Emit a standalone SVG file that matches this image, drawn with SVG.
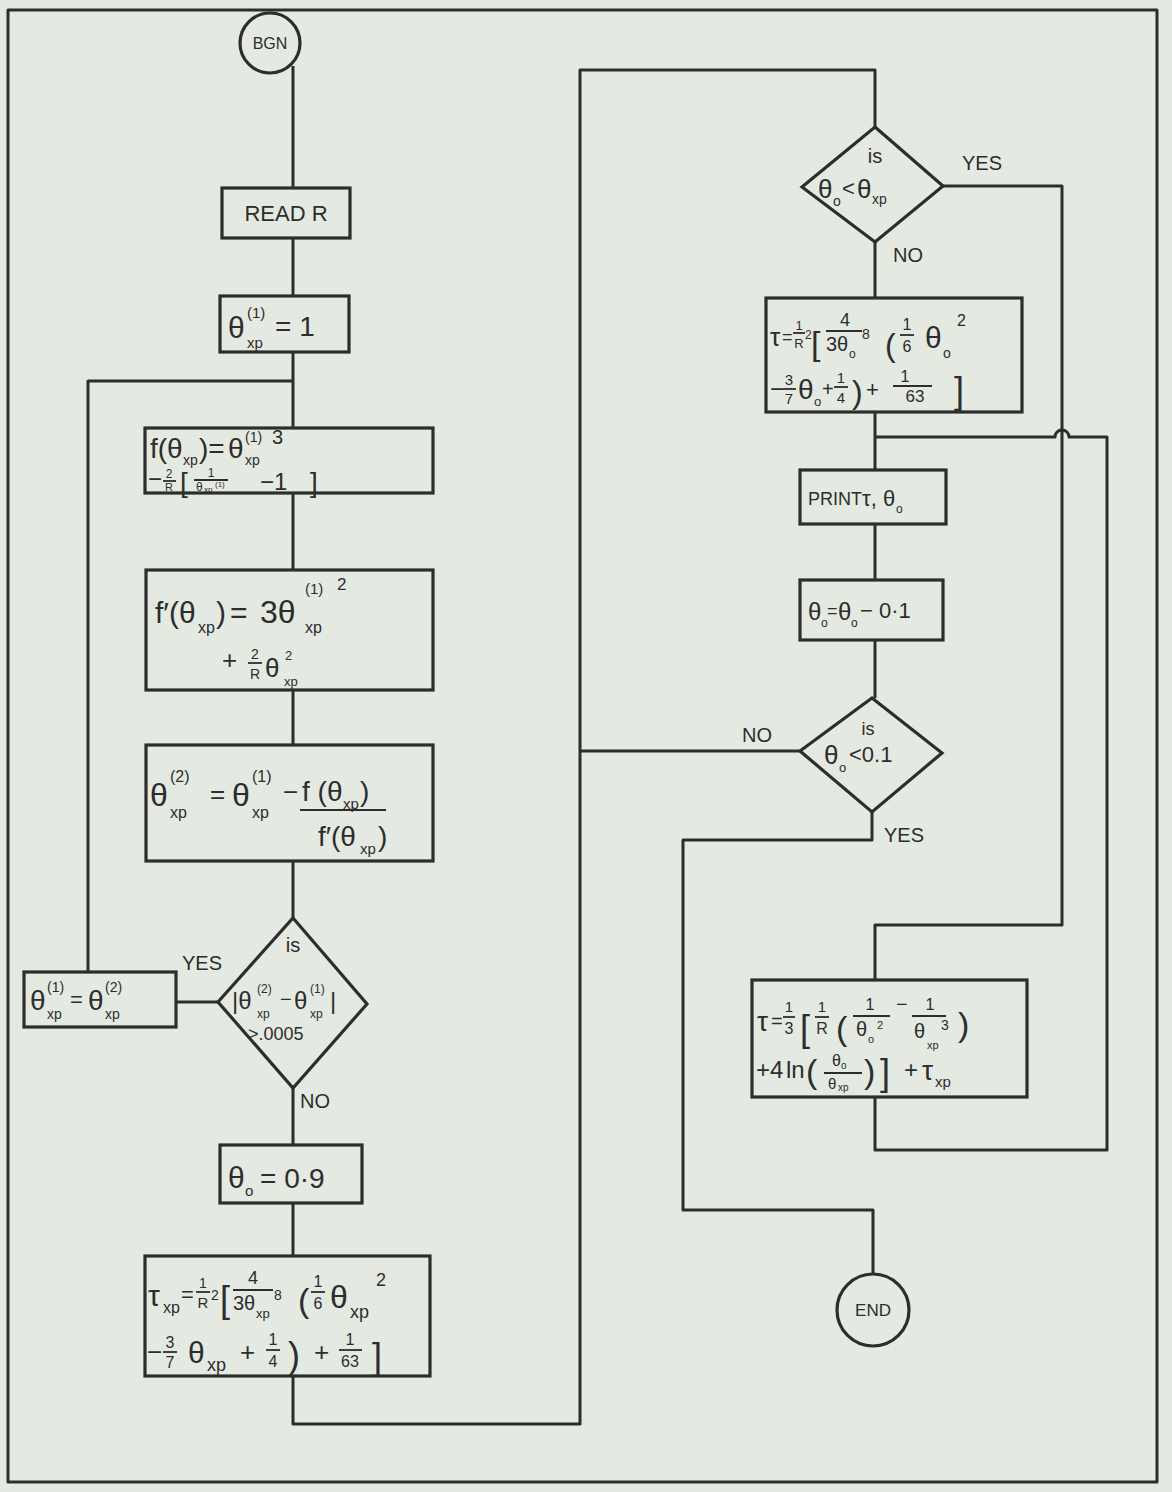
<svg xmlns="http://www.w3.org/2000/svg" width="1172" height="1492" viewBox="0 0 1172 1492">
<style>
.ln{fill:none;stroke:#2d2d2d;stroke-width:3;stroke-linejoin:round}
.nd{fill:none;stroke:#2d2d2d;stroke-width:3.2}
.fb{stroke:#2d2d2d;stroke-width:1.8}
text{font-family:"Liberation Sans","DejaVu Sans",sans-serif;fill:#2d2d2d}
.c{text-anchor:middle}
.lb{font-size:20px}
</style>
<rect x="0" y="0" width="1172" height="1492" fill="#e4e9e1"/>
<rect x="8" y="10" width="1149" height="1472" class="ln"/>

<g id="connectors">
<path class="ln" d="M293,66 V188"/>
<path class="ln" d="M293,238 V296"/>
<path class="ln" d="M293,352 V428"/>
<path class="ln" d="M88,972 V381 H293"/>
<path class="ln" d="M293,493 V570"/>
<path class="ln" d="M293,690 V745"/>
<path class="ln" d="M293,861 V918"/>
<path class="ln" d="M218,1002 H176"/>
<path class="ln" d="M293,1088 V1145"/>
<path class="ln" d="M293,1203 V1256"/>
<path class="ln" d="M293,1376 V1424 H580 V70 H875 V127"/>
<path class="ln" d="M875,242 V298"/>
<path class="ln" d="M875,412 V470"/>
<path class="ln" d="M875,524 V580"/>
<path class="ln" d="M875,640 V698"/>
<path class="ln" d="M800,751 H580"/>
<path class="ln" d="M943,186 H1062 V925 H875 V980"/>
<path class="ln" d="M875,1097 V1150 H1107 V437 H1069 A7,7 0 0 0 1055,437 H875"/>
<path class="ln" d="M872,812 V840 H683 V1210 H873 V1274"/>
<text class="lb" x="182" y="970">YES</text>
<text class="lb" x="300" y="1108">NO</text>
<text class="lb" x="962" y="170">YES</text>
<text class="lb" x="893" y="262">NO</text>
<text class="lb" x="742" y="742">NO</text>
<text class="lb" x="884" y="842">YES</text>
</g>

<g id="bgn">
<circle cx="270" cy="43" r="30" class="nd"/>
<text class="c" x="270" y="49" font-size="16">BGN</text>
</g>

<g id="read">
<rect x="222" y="188" width="128" height="50" class="nd"/>
<text class="c" x="286" y="221" font-size="22">READ R</text>
</g>

<g id="init">
<rect x="220" y="296" width="129" height="56" class="nd"/>
<text x="228" y="338" font-size="30">θ</text>
<text x="247" y="318" font-size="15">(1)</text>
<text x="247" y="348" font-size="15">xp</text>
<text x="275" y="336" font-size="28">= 1</text>
</g>

<g id="fx">
<rect x="145" y="428" width="288" height="65" class="nd"/>
<text x="150" y="458" font-size="28">f(θ</text>
<text x="183" y="465" font-size="14">xp</text>
<text x="199" y="458" font-size="28">)=</text>
<text x="228" y="458" font-size="28">θ</text>
<text x="245" y="442" font-size="14">(1)</text>
<text x="245" y="465" font-size="14">xp</text>
<text x="272" y="444" font-size="20">3</text>
<text x="148" y="487" font-size="24">−</text>
<text class="c" x="169" y="478" font-size="12">2</text>
<line class="fb" x1="163" y1="481" x2="176" y2="481"/>
<text class="c" x="169" y="491" font-size="11">R</text>
<text x="180" y="492" font-size="28">[</text>
<text class="c" x="211" y="477" font-size="12">1</text>
<line class="fb" x1="194" y1="480" x2="228" y2="480"/>
<text x="196" y="491" font-size="12">θ</text>
<text x="204" y="492" font-size="8">xp</text>
<text x="215" y="487" font-size="8">(1)</text>
<text x="260" y="490" font-size="24">−1</text>
<text x="310" y="492" font-size="28">]</text>
</g>

<g id="fprime">
<rect x="146" y="570" width="287" height="120" class="nd"/>
<text x="155" y="623" font-size="30">f′(θ</text>
<text x="198" y="633" font-size="16">xp</text>
<text x="216" y="623" font-size="30">)</text>
<text x="230" y="623" font-size="30">=</text>
<text x="260" y="623" font-size="32">3θ</text>
<text x="305" y="594" font-size="15">(1)</text>
<text x="337" y="590" font-size="17">2</text>
<text x="305" y="633" font-size="16">xp</text>
<text x="222" y="669" font-size="26">+</text>
<text class="c" x="255" y="659" font-size="14">2</text>
<line class="fb" x1="248" y1="663" x2="262" y2="663"/>
<text class="c" x="255" y="679" font-size="14">R</text>
<text x="265" y="677" font-size="26">θ</text>
<text x="285" y="660" font-size="13">2</text>
<text x="284" y="686" font-size="13">xp</text>
</g>

<g id="newton">
<rect x="146" y="745" width="287" height="116" class="nd"/>
<text x="150" y="806" font-size="32">θ</text>
<text x="170" y="782" font-size="16">(2)</text>
<text x="170" y="818" font-size="16">xp</text>
<text x="210" y="803" font-size="26">=</text>
<text x="232" y="806" font-size="32">θ</text>
<text x="252" y="782" font-size="16">(1)</text>
<text x="252" y="818" font-size="16">xp</text>
<text x="283" y="801" font-size="26">−</text>
<text x="302" y="801" font-size="28">f (θ</text>
<text x="343" y="809" font-size="15">xp</text>
<text x="360" y="801" font-size="28">)</text>
<line class="fb" x1="300" y1="810" x2="386" y2="810"/>
<text x="318" y="846" font-size="28">f′(θ</text>
<text x="360" y="854" font-size="15">xp</text>
<text x="378" y="846" font-size="28">)</text>
</g>

<g id="converge">
<polygon points="293,918 367,1004 293,1088 218,1002" class="nd"/>
<text class="c" x="293" y="952" font-size="20">is</text>
<text x="232" y="1009" font-size="24">|θ</text>
<text x="257" y="993" font-size="12">(2)</text>
<text x="257" y="1018" font-size="12">xp</text>
<text x="280" y="1006" font-size="20">−</text>
<text x="294" y="1009" font-size="24">θ</text>
<text x="310" y="993" font-size="12">(1)</text>
<text x="310" y="1018" font-size="12">xp</text>
<text x="330" y="1009" font-size="24">|</text>
<text x="248" y="1040" font-size="18">&gt;.0005</text>
</g>

<g id="swap">
<rect x="24" y="972" width="152" height="55" class="nd"/>
<text x="30" y="1010" font-size="28">θ</text>
<text x="47" y="992" font-size="14">(1)</text>
<text x="47" y="1019" font-size="14">xp</text>
<text x="70" y="1007" font-size="22">=</text>
<text x="88" y="1010" font-size="28">θ</text>
<text x="105" y="992" font-size="14">(2)</text>
<text x="105" y="1019" font-size="14">xp</text>
</g>

<g id="theta0">
<rect x="220" y="1145" width="142" height="58" class="nd"/>
<text x="228" y="1188" font-size="30">θ</text>
<text x="245" y="1196" font-size="15">o</text>
<text x="260" y="1188" font-size="28">= 0·9</text>
</g>

<g id="tauxp">
<rect x="145" y="1256" width="285" height="120" class="nd"/>
<text x="148" y="1306" font-size="30">τ</text>
<text x="163" y="1313" font-size="16">xp</text>
<text x="181" y="1302" font-size="22">=</text>
<text class="c" x="203" y="1288" font-size="14">1</text>
<line class="fb" x1="196" y1="1292" x2="210" y2="1292"/>
<text class="c" x="203" y="1308" font-size="15">R</text>
<text x="211" y="1300" font-size="14">2</text>
<text x="220" y="1312" font-size="36">[</text>
<text class="c" x="253" y="1284" font-size="18">4</text>
<line class="fb" x1="233" y1="1290" x2="273" y2="1290"/>
<text x="233" y="1310" font-size="20">3θ</text>
<text x="256" y="1318" font-size="13">xp</text>
<text x="274" y="1300" font-size="14">8</text>
<text x="298" y="1312" font-size="34">(</text>
<text class="c" x="318" y="1287" font-size="16">1</text>
<line class="fb" x1="311" y1="1292" x2="325" y2="1292"/>
<text class="c" x="318" y="1309" font-size="16">6</text>
<text x="330" y="1308" font-size="32">θ</text>
<text x="350" y="1318" font-size="18">xp</text>
<text x="376" y="1286" font-size="18">2</text>
<text x="147" y="1361" font-size="26">−</text>
<text class="c" x="170" y="1348" font-size="16">3</text>
<line class="fb" x1="163" y1="1352" x2="177" y2="1352"/>
<text class="c" x="170" y="1368" font-size="16">7</text>
<text x="188" y="1363" font-size="30">θ</text>
<text x="207" y="1371" font-size="18">xp</text>
<text x="240" y="1361" font-size="26">+</text>
<text class="c" x="273" y="1345" font-size="16">1</text>
<line class="fb" x1="266" y1="1350" x2="280" y2="1350"/>
<text class="c" x="273" y="1367" font-size="16">4</text>
<text x="288" y="1368" font-size="36">)</text>
<text x="314" y="1361" font-size="26">+</text>
<text class="c" x="350" y="1345" font-size="16">1</text>
<line class="fb" x1="339" y1="1350" x2="362" y2="1350"/>
<text class="c" x="350" y="1367" font-size="16">63</text>
<text x="372" y="1369" font-size="36">]</text>
</g>

<g id="test1">
<polygon points="875,127 943,186 875,242 802,187" class="nd"/>
<text class="c" x="875" y="163" font-size="20">is</text>
<text x="818" y="198" font-size="26">θ</text>
<text x="833" y="206" font-size="14">o</text>
<text x="842" y="196" font-size="22">&lt;</text>
<text x="857" y="198" font-size="26">θ</text>
<text x="872" y="204" font-size="14">xp</text>
</g>

<g id="tau1">
<rect x="766" y="298" width="256" height="114" class="nd"/>
<text x="770" y="346" font-size="26">τ</text>
<text x="782" y="343" font-size="18">=</text>
<text class="c" x="799" y="330" font-size="13">1</text>
<line class="fb" x1="793" y1="333" x2="805" y2="333"/>
<text class="c" x="799" y="348" font-size="13">R</text>
<text x="805" y="339" font-size="12">2</text>
<text x="811" y="355" font-size="34">[</text>
<text class="c" x="845" y="326" font-size="18">4</text>
<line class="fb" x1="826" y1="331" x2="862" y2="331"/>
<text x="826" y="351" font-size="20">3θ</text>
<text x="849" y="358" font-size="12">o</text>
<text x="862" y="339" font-size="14">8</text>
<text x="885" y="356" font-size="32">(</text>
<text class="c" x="907" y="330" font-size="16">1</text>
<line class="fb" x1="900" y1="335" x2="914" y2="335"/>
<text class="c" x="907" y="352" font-size="16">6</text>
<text x="925" y="348" font-size="30">θ</text>
<text x="943" y="358" font-size="14">o</text>
<text x="957" y="326" font-size="16">2</text>
<text x="770" y="397" font-size="24">−</text>
<text class="c" x="789" y="385" font-size="15">3</text>
<line class="fb" x1="783" y1="389" x2="796" y2="389"/>
<text class="c" x="789" y="404" font-size="15">7</text>
<text x="798" y="399" font-size="28">θ</text>
<text x="814" y="406" font-size="13">o</text>
<text x="822" y="396" font-size="20">+</text>
<text class="c" x="841" y="383" font-size="15">1</text>
<line class="fb" x1="834" y1="387" x2="848" y2="387"/>
<text class="c" x="841" y="403" font-size="15">4</text>
<text x="852" y="403" font-size="32">)</text>
<text x="866" y="397" font-size="22">+</text>
<text class="c" x="905" y="382" font-size="16">1</text>
<line class="fb" x1="893" y1="386" x2="932" y2="386"/>
<text class="c" x="915" y="402" font-size="17">63</text>
<text x="954" y="403" font-size="36">]</text>
</g>

<g id="print">
<rect x="800" y="470" width="146" height="54" class="nd"/>
<text x="808" y="505" font-size="18">PRINT</text>
<text x="862" y="506" font-size="22">τ,</text>
<text x="883" y="506" font-size="22">θ</text>
<text x="896" y="513" font-size="12">o</text>
</g>

<g id="decr">
<rect x="800" y="580" width="143" height="60" class="nd"/>
<text x="808" y="620" font-size="24">θ</text>
<text x="821" y="627" font-size="12">o</text>
<text x="827" y="617" font-size="18">=</text>
<text x="838" y="620" font-size="24">θ</text>
<text x="851" y="627" font-size="12">o</text>
<text x="860" y="618" font-size="22">− 0·1</text>
</g>

<g id="test2">
<polygon points="872,698 942,753 872,812 800,751" class="nd"/>
<text class="c" x="868" y="735" font-size="18">is</text>
<text x="824" y="764" font-size="26">θ</text>
<text x="839" y="772" font-size="13">o</text>
<text x="849" y="762" font-size="22">&lt;0.1</text>
</g>

<g id="tau2">
<rect x="752" y="980" width="275" height="117" class="nd"/>
<text x="757" y="1031" font-size="28">τ</text>
<text x="771" y="1028" font-size="20">=</text>
<text class="c" x="789" y="1012" font-size="15">1</text>
<line class="fb" x1="783" y1="1017" x2="795" y2="1017"/>
<text class="c" x="789" y="1034" font-size="16">3</text>
<text x="800" y="1041" font-size="36">[</text>
<text class="c" x="822" y="1012" font-size="15">1</text>
<line class="fb" x1="815" y1="1017" x2="829" y2="1017"/>
<text class="c" x="822" y="1034" font-size="16">R</text>
<text x="836" y="1040" font-size="34">(</text>
<text class="c" x="870" y="1010" font-size="16">1</text>
<line class="fb" x1="853" y1="1016" x2="890" y2="1016"/>
<text x="856" y="1036" font-size="20">θ</text>
<text x="868" y="1043" font-size="11">o</text>
<text x="877" y="1029" font-size="11">2</text>
<text x="896" y="1011" font-size="20">−</text>
<text class="c" x="930" y="1010" font-size="16">1</text>
<line class="fb" x1="912" y1="1016" x2="946" y2="1016"/>
<text x="914" y="1038" font-size="20">θ</text>
<text x="927" y="1049" font-size="11">xp</text>
<text x="941" y="1030" font-size="14">3</text>
<text x="958" y="1036" font-size="34">)</text>
<text x="756" y="1078" font-size="24">+4</text>
<text x="786" y="1078" font-size="24">ln</text>
<text x="806" y="1083" font-size="34">(</text>
<text x="832" y="1066" font-size="16">θ</text>
<text x="841" y="1069" font-size="10">o</text>
<line class="fb" x1="824" y1="1073" x2="862" y2="1073"/>
<text x="828" y="1089" font-size="15">θ</text>
<text x="838" y="1091" font-size="10">xp</text>
<text x="864" y="1083" font-size="34">)</text>
<text x="880" y="1085" font-size="36">]</text>
<text x="904" y="1078" font-size="24">+</text>
<text x="922" y="1080" font-size="28">τ</text>
<text x="935" y="1087" font-size="15">xp</text>
</g>

<g id="end">
<circle cx="873" cy="1310" r="36" class="nd"/>
<text class="c" x="873" y="1316" font-size="17">END</text>
</g>
</svg>
